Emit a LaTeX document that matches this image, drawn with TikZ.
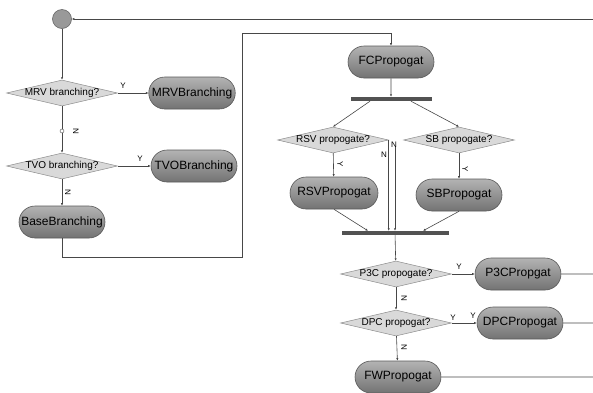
\documentclass[tikz,border=0pt]{standalone}
\usepackage{fontspec}
\setmainfont{Liberation Sans}
\usetikzlibrary{arrows.meta,shapes.geometric,shapes.misc}

\begin{document}
\begin{tikzpicture}[x=1pt,y=-1pt,>={Latex[length=2.5pt,width=2.2pt]},
  flow/.style={draw=black!72,line width=0.6pt},
  action/.style={rounded rectangle,draw=black!65,line width=0.6pt,top color=black!30,bottom color=black!55,
    minimum width=90pt,minimum height=32pt,inner sep=2pt,font=\fontsize{12}{14}\selectfont},
  choice/.style={diamond,draw=black!45,line width=0.5pt,fill=black!15,minimum width=111pt,minimum height=26pt,
    aspect=4,inner xsep=-14pt,inner ysep=0pt,font=\fontsize{10}{12}\selectfont},
  syncbar/.style={rectangle,fill=black!68,minimum height=4pt,inner sep=0pt},
  tag/.style={font=\fontsize{8}{9}\selectfont,inner sep=0pt},
  vtag/.style={tag,rotate=-90}]
  \useasboundingbox (0,0) rectangle (593,392);

  % start
  \node[circle,draw=black!60,line width=0.6pt,fill=black!40,minimum size=19pt,inner sep=0pt] (start) at (62,19) {};
  \coordinate (rtop) at (593,19);

  % branching part
  \node[choice] (mrv) at (62,93) {MRV branching?};
  \node[action,minimum width=86pt] (mrvb) at (192,93) {MRVBranching};
  \node[choice] (tvo) at (62,166) {TVO branching?};
  \node[action] (tvob) at (194,166) {TVOBranching};
  \node[action] (base) at (62,222) {BaseBranching};
  \coordinate (loopA) at (242,257);
  \coordinate (loopB) at (242,33);

  % propagation part
  \node[action] (fc) at (391,62) {FCPropogat};
  \node[syncbar,minimum width=81pt] (bar1) at (391,99) {};
  \node[choice] (rsv) at (333,140) {RSV propogate?};
  \node[choice] (sb) at (459,140) {SB propogate?};
  \node[action,minimum width=92pt] (rsvp) at (334,193) {RSVPropogat};
  \node[action] (sbp) at (459,195) {SBPropogat};
  \node[syncbar,minimum width=107pt] (bar2) at (395,233) {};
  \coordinate (sbN) at (395,147);
  \node[choice] (p3c) at (396,274) {P3C propogate?};
  \node[action] (p3cp) at (518,274) {P3CPropgat};
  \node[choice] (dpc) at (396,323) {DPC propogat?};
  \node[tag] (dpcy2) at (473,316) {Y};
  \node[action] (dpcp) at (520,323) {DPCPropogat};
  \node[action] (fw) at (398,377) {FWPropogat};
  \coordinate (rp3c) at (593,274);
  \coordinate (rdpc) at (593,323);
  \coordinate (rfw) at (593,377);

  % connectors
  \draw[flow,->] (rtop) -- (start);
  \draw[flow,->] (start) -- (mrv);
  \draw[flow,->] (mrv) -- (mrvb);
  \draw[flow,->] (mrv) -- (tvo);
  \node[circle,draw=black!70,fill=white,minimum size=4pt,inner sep=0pt] (mrvdot) at (62,131) {};
  \draw[flow,->] (tvo) -- (tvob);
  \draw[flow,->] (tvo) -- (base);
  \draw[flow,->] (base.south) |- (loopA) -- (loopB) -| (fc.north);
  \draw[flow,->] (fc) -- (bar1);
  \draw[flow,->] ([xshift=-21pt]bar1.south) -- (rsv.north);
  \draw[flow,->] ([xshift=20pt]bar1.south) -- (sb.north);
  \draw[flow,->] (rsv) -- (rsvp);
  \draw[flow,->] (sb) -- (sbp);
  \draw[flow,->] (rsvp.south) -- ([xshift=-27pt]bar2.north);
  \draw[flow,->] (sbp.south) -- ([xshift=28pt]bar2.north);
  \draw[flow,->] (rsv.east) -- (rsv.east |- bar2.north);
  \draw[flow,->] (sbN) -- (bar2.north);
  \draw[flow,->] (bar2) -- (p3c);
  \draw[flow,->] (p3c) -- (p3cp);
  \draw[flow,->] (p3c) -- (dpc);
  \draw[flow,->] (dpc) -- (dpcp);
  \draw[flow,->] (dpc) -- (fw);
  \draw[flow] (p3cp) -- (rp3c);
  \draw[flow] (dpcp) -- (rdpc);
  \draw[flow] (fw) -- (rfw);

  % guard labels
  \node[tag] at (123,86) {Y};
  \node[vtag] at (76,131) {N};
  \node[tag] at (140,159) {Y};
  \node[vtag] at (68,192) {N};
  \node[vtag] at (340,164) {Y};
  \node[vtag] at (465,169) {Y};
  \node[tag] at (384,155) {N};
  \node[tag] at (394,145) {N};
  \node[tag] at (459,267) {Y};
  \node[vtag] at (404,298) {N};
  \node[tag] at (453,318) {Y};
  \node[vtag] at (404,347) {N};
\end{tikzpicture}
\end{document}
